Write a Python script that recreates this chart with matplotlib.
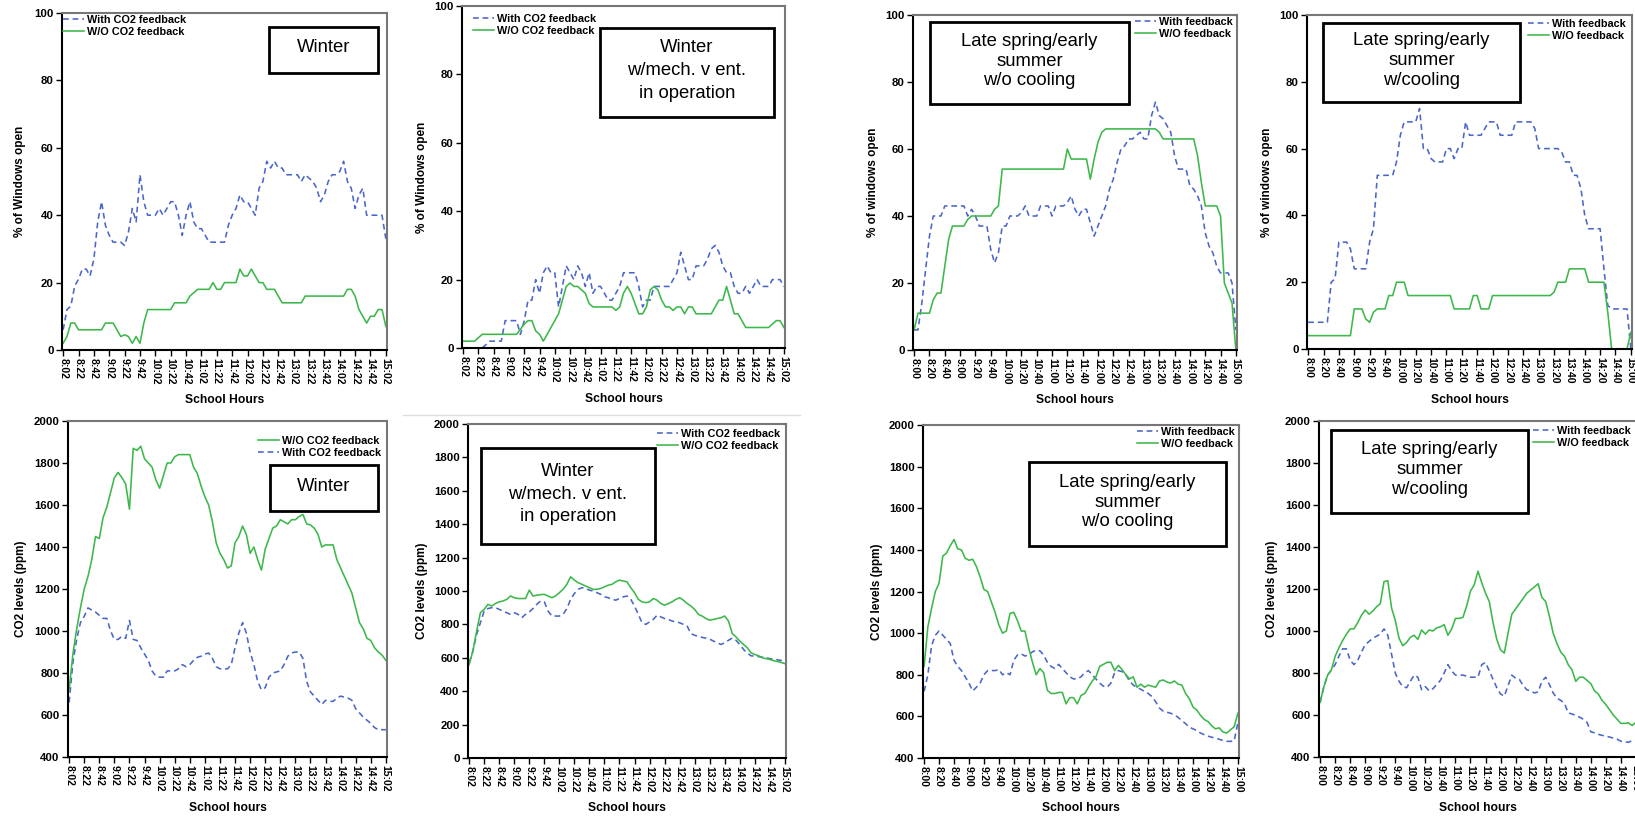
import numpy as np
import matplotlib.pyplot as plt
from matplotlib.patches import Rectangle
from matplotlib.lines import Line2D

plt.rcParams['font.family'] = ['Liberation Sans', 'DejaVu Sans']

W, H = 1635, 821

# time axis: minutes after start of school day, 5 min steps
minutes = np.arange(0, 421, 5)
tick_min = np.arange(0, 421, 20)

winter_ticks = ['8:02', '8:22', '8:42', '9:02', '9:22', '9:42', '10:02', '10:22', '10:42',
                '11:02', '11:22', '11:42', '12:02', '12:22', '12:42', '13:02', '13:22',
                '13:42', '14:02', '14:22', '14:42', '15:02']
summer_ticks = ['8:00', '8:20', '8:40', '9:00', '9:20', '9:40', '10:00', '10:20', '10:40',
                '11:00', '11:20', '11:40', '12:00', '12:20', '12:40', '13:00', '13:20',
                '13:40', '14:00', '14:20', '14:40', '15:00']

# % windows open
win_with = [6, 12, 13, 19, 21, 24, 24, 22, 27, 38,
            44, 37, 34, 32, 32, 32, 31, 35, 42, 38,
            52, 44, 40, 40, 40, 42, 40, 42, 44, 44,
            40, 34, 40, 44, 38, 36, 36, 34, 32, 32,
            32, 32, 32, 37, 40, 42, 46, 44, 44, 42,
            40, 48, 50, 56, 54, 56, 54, 54, 52, 52,
            52, 52, 50, 52, 51, 50, 48, 44, 46, 50,
            52, 52, 53, 56, 50, 48, 42, 46, 48, 40,
            40, 40, 40, 40, 33]
win_wo = [2, 4, 8, 8, 6, 6, 6, 6, 6, 6,
          6, 8, 8, 8, 6, 4, 4.5, 4, 2, 4,
          2, 8, 12, 12, 12, 12, 12, 12, 12, 14,
          14, 14, 14, 16, 17, 18, 18, 18, 18, 20,
          18, 18, 20, 20, 20, 20, 24, 22, 22, 24,
          22, 20, 20, 18, 18, 18, 16, 14, 14, 14,
          14, 14, 14, 16, 16, 16, 16, 16, 16, 16,
          16, 16, 16, 16, 18, 18, 16, 12, 10, 8,
          10, 10, 12, 12, 7]

mech_with = [0, 0, 0, 0, 0, 0, 1, 2, 2, 2,
             2, 8, 8, 8, 8, 4, 8, 14, 14, 20,
             16, 22, 24, 22, 22, 12, 18, 24, 22, 20,
             24, 22, 18, 22, 16, 18, 18, 16, 14, 14,
             16, 18, 22, 22, 22, 22, 18, 12, 14, 14,
             18, 18, 18, 18, 18, 20, 22, 28, 24, 20,
             20, 24, 24, 24, 26, 29, 30, 28, 24, 22,
             22, 18, 16, 16, 18, 16, 18, 20, 18, 18,
             18, 20, 20, 20, 18]
mech_wo = [2, 2, 2, 2, 3, 4, 4, 4, 4, 4,
           4, 4, 4, 4, 4, 5.5, 7, 8, 8, 5,
           4, 2, 4, 6, 8, 10, 14, 18, 19, 18,
           18, 17, 16, 13, 12, 12, 12, 12, 12, 12,
           11, 12, 16, 18, 16, 13, 10, 10, 12, 17,
           18, 17, 14, 12, 12, 11, 12, 12, 10, 12,
           12, 10, 10, 10, 10, 10, 12, 14, 14, 18,
           14, 10, 10, 8, 6, 6, 6, 6, 6, 6,
           6, 7, 8, 8, 6]

nocool_with = [6, 6, 14, 24, 34, 40, 40, 40, 43, 43,
               43, 43, 43, 43, 40, 42, 40, 37, 37, 37,
               30, 26, 29, 37, 37, 40, 40, 40, 41, 43,
               40, 40, 40, 43, 43, 43, 40, 43, 43, 43,
               44, 46, 42, 40, 42, 42, 38, 34, 37, 40,
               43, 48, 51, 56, 60, 61, 63, 63, 64, 65,
               63, 63, 70, 74, 70, 69, 67, 65, 58, 54,
               54, 54, 49, 48, 46, 43, 35, 31, 29, 25,
               23, 23, 23, 20, 6]
nocool_wo = [6, 11, 11, 11, 11, 15, 17, 17, 25, 33,
             37, 37, 37, 37, 39, 40, 40, 40, 40, 40,
             40, 42, 43, 54, 54, 54, 54, 54, 54, 54,
             54, 54, 54, 54, 54, 54, 54, 54, 54, 54,
             60, 57, 57, 57, 57, 57, 51, 57, 62, 65,
             66, 66, 66, 66, 66, 66, 66, 66, 66, 66,
             66, 66, 66, 66, 65, 63, 63, 63, 63, 63,
             63, 63, 63, 63, 58, 50, 43, 43, 43, 43,
             40, 20, 17, 14, 0]

cool_with = [8, 8, 8, 8, 8, 8, 20, 21, 32, 32,
             32, 30, 24, 24, 24, 24, 32, 36, 52, 52,
             52, 52, 52, 56, 64, 68, 68, 68, 68, 72,
             60, 60, 57, 56, 56, 56, 60, 60, 57, 60,
             60, 68, 64, 64, 64, 64, 66, 68, 68, 68,
             64, 64, 64, 64, 68, 68, 68, 68, 68, 66,
             60, 60, 60, 60, 60, 60, 59, 56, 56, 52,
             52, 48, 40, 36, 36, 36, 36, 24, 13, 12,
             12, 12, 12, 12, 0]
cool_wo = [4, 4, 4, 4, 4, 4, 4, 4, 4, 4,
           4, 4, 12, 12, 12, 9, 8, 11, 12, 12,
           12, 16, 16, 20, 20, 20, 16, 16, 16, 16,
           16, 16, 16, 16, 16, 16, 16, 16, 12, 12,
           12, 12, 12, 16, 16, 12, 12, 12, 16, 16,
           16, 16, 16, 16, 16, 16, 16, 16, 16, 16,
           16, 16, 16, 16, 17, 20, 20, 20, 24, 24,
           24, 24, 24, 20, 20, 20, 20, 20, 11, 0,
           0, 0, 0, 0, 5]

# CO2 levels (ppm)
co2_win_wo = [720, 890, 1010, 1110, 1200, 1260, 1340, 1450, 1440, 1540,
              1590, 1660, 1730, 1755, 1730, 1700, 1580, 1870, 1860, 1880,
              1820, 1800, 1780, 1720, 1680, 1740, 1800, 1800, 1830, 1840,
              1840, 1840, 1840, 1780, 1750, 1690, 1640, 1600, 1520, 1420,
              1370, 1340, 1300, 1310, 1420, 1450, 1500, 1460, 1370, 1400,
              1340, 1290, 1390, 1440, 1490, 1500, 1530, 1520, 1510, 1530,
              1530, 1545, 1555, 1510, 1505, 1490, 1460, 1400, 1410, 1410,
              1410, 1340, 1300, 1260, 1220, 1180, 1110, 1040, 1010, 965,
              955, 920, 900, 885, 860]
co2_win_with = [660, 850, 960, 1040, 1070, 1110, 1100, 1090, 1075, 1060,
                1060, 1000, 960, 960, 975, 965, 1050, 960, 955, 920,
                890, 860, 810, 785, 780, 780, 810, 810, 810, 820,
                840, 830, 840, 860, 875, 880, 890, 895, 870, 830,
                820, 820, 820, 840, 920, 990, 1040, 990, 900, 840,
                760, 720, 730, 780, 800, 805, 810, 840, 880, 895,
                900, 900, 870, 760, 710, 690, 670, 650, 670, 665,
                665, 680, 690, 685, 680, 670, 630, 610, 590, 575,
                560, 540, 530, 530, 530]

co2_mech_with = [570, 640, 740, 810, 880, 895, 900, 900, 890, 880,
                 870, 860, 870, 860, 840, 860, 875, 895, 920, 940,
                 935, 880, 850, 850, 850, 860, 895, 950, 985, 1010,
                 1020, 1015, 1005, 1000, 990, 980, 965, 960, 950, 945,
                 955, 965, 970, 950, 910, 860, 810, 800, 815, 830,
                 855, 845, 835, 830, 820, 815, 810, 800, 790, 745,
                 735, 728, 722, 718, 712, 700, 690, 680, 690, 705,
                 718, 705, 680, 650, 628, 612, 610, 607, 604, 600,
                 595, 592, 588, 584, 585]
co2_mech_wo = [560, 640, 760, 870, 890, 920, 910, 925, 935, 940,
               950, 970, 960, 955, 955, 955, 1005, 970, 975, 978,
               980, 970, 960, 970, 990, 1010, 1040, 1085, 1065, 1050,
               1040, 1030, 1020, 1010, 1010, 1015, 1025, 1035, 1040, 1055,
               1065, 1060, 1055, 1020, 990, 950, 935, 930, 935, 955,
               945, 925, 915, 925, 935, 950, 960, 945, 925, 910,
               890, 860, 850, 835, 825, 830, 835, 840, 850, 820,
               745, 725, 700, 680, 660, 630, 620, 612, 600, 595,
               590, 583, 578, 572, 565]

co2_nocool_with = [720, 800, 940, 990, 1010, 990, 970, 950, 870, 840,
                   820, 790, 760, 722, 740, 760, 800, 820, 820, 820,
                   825, 800, 810, 800, 870, 895, 900, 890, 895, 910,
                   918, 915, 895, 860, 840, 830, 850, 830, 810, 790,
                   780, 780, 790, 810, 820, 800, 780, 760, 745, 740,
                   760, 810, 820, 815, 800, 770, 750, 740, 730, 720,
                   710, 695, 670, 640, 625, 620, 615, 608, 595, 580,
                   565, 548, 540, 532, 520, 512, 505, 500, 495, 490,
                   484, 480, 480, 482, 570]
co2_nocool_wo = [840, 1030, 1120, 1200, 1240, 1370, 1385, 1420, 1450, 1405,
                 1400, 1360, 1350, 1355, 1320, 1270, 1210, 1200, 1150, 1100,
                 1040, 1000, 1010, 1095, 1100, 1060, 1010, 1010, 930, 860,
                 800, 830, 810, 725, 710, 710, 715, 715, 660, 690,
                 690, 660, 700, 710, 740, 770, 790, 840, 850, 860,
                 860, 820, 845, 825, 800, 780, 790, 740, 755, 740,
                 750, 745, 740, 770, 775, 765, 760, 770, 755, 750,
                 710, 685, 645, 630, 605, 585, 575, 555, 540, 545,
                 525, 520, 535, 550, 615]

co2_cool_with = [660, 735, 790, 815, 840, 880, 915, 915, 860, 840,
                 860, 900, 935, 950, 965, 975, 985, 1010, 980, 890,
                 800, 760, 735, 730, 760, 790, 780, 720, 735, 715,
                 725, 745, 765, 800, 840, 810, 790, 790, 790, 785,
                 780, 780, 780, 840, 850, 810, 770, 730, 700, 690,
                 740, 790, 775, 770, 740, 720, 715, 705, 710, 760,
                 780, 745, 705, 680, 670, 655, 610, 605, 598, 590,
                 580, 565, 520, 515, 508, 503, 500, 495, 490, 485,
                 475, 472, 470, 478, 480]
co2_cool_wo = [660, 735, 790, 815, 880, 920, 955, 985, 1010, 1010,
               1040, 1075, 1100, 1080, 1095, 1115, 1130, 1235, 1240, 1110,
               1050, 965, 930, 945, 970, 980, 960, 1005, 985, 1005,
               1000, 1015, 1020, 1030, 980, 1010, 1060, 1060, 1065, 1120,
               1190, 1220, 1285, 1230, 1180, 1140, 1040, 960, 910, 895,
               990, 1080, 1105, 1130, 1155, 1180, 1195, 1210, 1225, 1160,
               1140, 1070, 990, 940, 900, 880, 840, 815, 760, 780,
               780, 765, 750, 715, 700, 670, 650, 625, 600, 580,
               560, 560, 563, 550, 565]

BLUE = '#4a66c8'
GREEN = '#3cb84a'


def fx(px):
    return px / W


def fy(py):
    return 1 - py / H


fig = plt.figure(figsize=(W / 100, H / 100), dpi=100)

panels = [
    dict(box=(62, 13, 387, 350), ticks=winter_ticks, w=win_with, wo=win_wo, ylim=(0, 100), ystep=20,
         ylab='% of Windows open', xlab='School Hours', labels=('With CO2 feedback', 'W/O CO2 feedback'),
         wo_first=False, leg=(63, 15), tbox=(269, 27, 378, 73), text='Winter', ls=1.2, ylx=20, xly=400),
    dict(box=(462, 6, 785, 348), ticks=winter_ticks, w=mech_with, wo=mech_wo, ylim=(0, 100), ystep=20,
         ylab='% of Windows open', xlab='School hours', labels=('With CO2 feedback', 'W/O CO2 feedback'),
         wo_first=False, leg=(473, 14), tbox=(600, 28, 774, 117),
         text='Winter\nw/mech. v ent.\nin operation', ls=1.45, ylx=422, xly=399),
    dict(box=(913, 15, 1237, 350), ticks=summer_ticks, w=nocool_with, wo=nocool_wo, ylim=(0, 100), ystep=20,
         ylab='% of windows open', xlab='School hours', labels=('With feedback', 'W/O feedback'),
         wo_first=False, leg=(1135, 17), tbox=(930, 22, 1129, 104),
         text='Late spring/early\nsummer\nw/o cooling', ls=1.2, ylx=873, xly=400),
    dict(box=(1307, 15, 1632, 349), ticks=summer_ticks, w=cool_with, wo=cool_wo, ylim=(0, 100), ystep=20,
         ylab='% of windows open', xlab='School hours', labels=('With feedback', 'W/O feedback'),
         wo_first=False, leg=(1528, 19), tbox=(1323, 23, 1520, 102),
         text='Late spring/early\nsummer\nw/cooling', ls=1.2, ylx=1267, xly=400),
    dict(box=(68, 421, 387, 757), ticks=winter_ticks, w=co2_win_with, wo=co2_win_wo, ylim=(400, 2000), ystep=200,
         ylab='CO2 levels (ppm)', xlab='School hours', labels=('With CO2 feedback', 'W/O CO2 feedback'),
         wo_first=True, leg=(258, 436), tbox=(270, 465, 378, 511), text='Winter', ls=1.2, ylx=21, xly=808),
    dict(box=(468, 424, 786, 758), ticks=winter_ticks, w=co2_mech_with, wo=co2_mech_wo, ylim=(0, 2000), ystep=200,
         ylab='CO2 levels (ppm)', xlab='School hours', labels=('With CO2 feedback', 'W/O CO2 feedback'),
         wo_first=False, leg=(657, 429), tbox=(481, 448, 655, 544),
         text='Winter\nw/mech. v ent.\nin operation', ls=1.45, ylx=422, xly=808),
    dict(box=(923, 425, 1239, 758), ticks=summer_ticks, w=co2_nocool_with, wo=co2_nocool_wo, ylim=(400, 2000),
         ystep=200, ylab='CO2 levels (ppm)', xlab='School hours', labels=('With feedback', 'W/O feedback'),
         wo_first=False, leg=(1137, 427), tbox=(1029, 462, 1226, 546),
         text='Late spring/early\nsummer\nw/o cooling', ls=1.2, ylx=877, xly=808),
    dict(box=(1319, 421, 1637, 757), ticks=summer_ticks, w=co2_cool_with, wo=co2_cool_wo, ylim=(400, 2000),
         ystep=200, ylab='CO2 levels (ppm)', xlab='School hours', labels=('With feedback', 'W/O feedback'),
         wo_first=False, leg=(1533, 426), tbox=(1331, 430, 1528, 513),
         text='Late spring/early\nsummer\nw/cooling', ls=1.2, ylx=1272, xly=808),
]

for p in panels:
    l, t, r, b = p['box']
    ax = fig.add_axes([fx(l), fy(b), fx(r - l), (b - t) / H])
    lw_, = ax.plot(minutes, p['w'], color=BLUE, lw=1.15, dashes=(3.6, 2.4), label=p['labels'][0])
    lwo, = ax.plot(minutes, p['wo'], color=GREEN, lw=1.15, label=p['labels'][1])
    ax.set_xlim(-1.5, 421.5)
    ax.set_ylim(*p['ylim'])
    ax.set_yticks(np.arange(p['ylim'][0], p['ylim'][1] + 1, p['ystep']))
    ax.set_xticks(tick_min)
    ax.set_xticklabels(p['ticks'], rotation=-90, fontsize=7.5, fontweight='bold')
    for lab in ax.get_yticklabels():
        lab.set_fontsize(8.2)
        lab.set_fontweight('bold')
    ax.tick_params(direction='out', length=4.5, width=1, pad=1.5)
    for s in ['left', 'bottom']:
        ax.spines[s].set_linewidth(1.5)
        ax.spines[s].set_color('black')
    for s in ['top', 'right']:
        ax.spines[s].set_linewidth(1.5)
        ax.spines[s].set_color('#777777')
    ax.set_ylabel(p['ylab'], fontsize=8.5, fontweight='bold', va='center')
    ax.yaxis.set_label_coords(fx(p['ylx']), fy((t + b) / 2), transform=fig.transFigure)
    ax.set_xlabel(p['xlab'], fontsize=8.7, fontweight='bold', va='center')
    ax.xaxis.set_label_coords(fx((l + r) / 2), fy(p['xly']), transform=fig.transFigure)

    handles = [lwo, lw_] if p['wo_first'] else [lw_, lwo]
    ax.legend(handles=handles, loc='upper left', bbox_to_anchor=(fx(p['leg'][0]), fy(p['leg'][1])),
              bbox_transform=fig.transFigure, frameon=False, prop={'weight': 'bold', 'size': 7.8},
              handlelength=1.9, handletextpad=0.3, labelspacing=0.15, borderpad=0, borderaxespad=0)

    bl, bt, br, bb = p['tbox']
    fig.add_artist(Rectangle((fx(bl), fy(bb)), fx(br - bl), (bb - bt) / H, transform=fig.transFigure,
                             fill=False, lw=2, edgecolor='black'))
    fig.text(fx((bl + br) / 2), fy((bt + bb) / 2 - 2), p['text'], ha='center', va='center',
             fontsize=13.3, linespacing=p['ls'], multialignment='center')

# faint separator line above the second lower panel
fig.add_artist(Line2D([fx(403), fx(800)], [fy(415), fy(415)], transform=fig.transFigure,
                      color='#dddddd', lw=1))

fig.savefig('out.png', dpi=100)
